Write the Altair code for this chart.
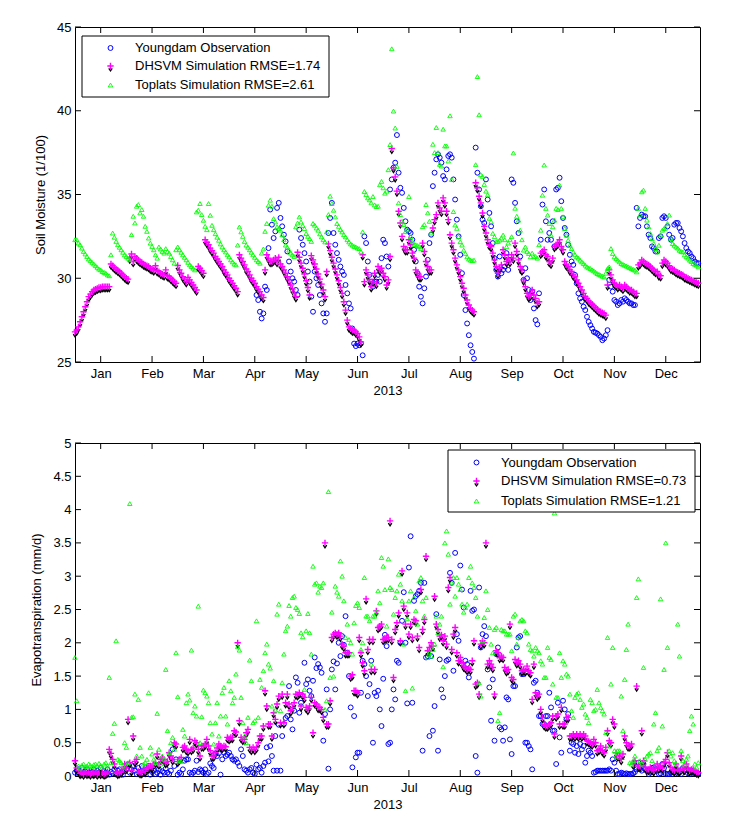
import altair as alt
import pandas as pd

FONT = "Liberation Sans"

def cat(*parts):
    out = []
    for p in parts:
        out.extend(p)
    return out

# ---------------- Soil moisture (1/100), one value per day of 2013 ----------------
sm_dhsvm = cat(
    [26.8, 26.9, 27.1, 27.4, 27.7, 28.0, 28.3, 28.6, 28.9, 29.05, 29.2, 29.3, 29.35, 29.4, 29.45, 29.45, 29.5, 29.5, 29.5, 29.5, 29.5],
    [30.85, 30.75, 30.65, 30.55, 30.48, 30.4, 30.3, 30.2, 30.1, 30.0, 29.95],
    [31.2, 31.45, 31.0, 31.3, 31.2, 31.1, 31.0, 30.95, 30.85, 30.8, 30.75, 30.7, 30.6, 30.55, 30.5, 30.75, 30.45, 30.4, 30.3, 30.25, 30.2, 30.5, 30.15, 30.1, 30.0, 29.9, 29.8, 29.7],
    [30.76, 30.5, 30.3, 30.1, 29.95, 29.8],
    [30.05, 29.9, 29.75, 29.6, 29.45, 29.3],
    [30.7, 30.6, 30.45, 30.3],
    [32.3, 32.15, 32.0, 31.8, 31.65, 31.5, 31.3, 31.15, 31.0, 30.85, 30.7, 30.5, 30.35, 30.2, 30.0, 29.85, 29.7, 29.55, 29.4, 29.2],
    [31.4, 31.2, 31.0, 30.8, 30.55, 30.4, 30.2, 30.0, 29.85, 29.7, 29.5, 29.35, 29.2, 29.0, 28.85],
    [30.5, 31.4, 31.2, 31.0, 31.0, 31.1, 31.2, 31.0, 31.25],
    [30.85, 30.7, 30.5, 30.3, 30.1, 29.9, 29.6, 29.35, 29.1, 28.9],
    [31.55, 31.25, 30.9, 30.6, 30.25, 29.85, 29.45, 29.0],
    [31.35, 31.1, 30.85, 30.55, 30.25, 29.95, 29.65, 29.3, 28.9, 30.4],
    [32.05, 31.65, 31.25, 30.9, 30.55, 30.2, 29.85, 29.45, 29.1, 28.6, 28.1, 27.5],
    [27.1, 27.0, 26.9, 26.9, 26.8, 26.7, 26.5, 26.2],
    [31.4, 29.8, 30.5, 30.2, 29.9, 29.5, 29.8, 30.3, 29.7, 30.7, 30.5, 30.6, 30.3, 30.1, 29.6, 29.9, 31.3],
    [37.75, 36.6, 36.05, 35.2, 34.0, 33.3, 32.5, 31.9, 31.7, 31.7, 32.3, 32.0, 31.5, 31.2, 30.5, 30.3, 30.1, 30.1, 32.1, 31.6, 31.0, 30.7, 30.5, 30.5],
    [33.0, 33.5, 33.8, 34.5, 34.2, 34.0, 34.8, 34.5, 34.0, 33.5, 32.6, 32.1, 31.7, 31.2, 30.8, 30.5, 30.1, 29.7, 29.4, 29.0, 28.7, 28.4, 28.2, 28.1, 28.0],
    [35.7, 35.4, 34.9, 34.5, 33.9, 33.1, 32.7, 32.3, 32.0, 31.9, 31.5, 31.1, 30.7, 30.3, 30.6, 30.8, 31.7, 31.4, 31.0, 31.2, 31.0, 31.4, 31.2, 32.1, 31.6, 31.1, 30.7, 30.5, 29.9, 29.5, 29.1, 28.9, 29.0, 29.3, 29.0, 28.8, 28.5, 28.6],
    [31.5, 31.6, 31.7, 31.4, 31.3, 31.0, 30.9, 31.2, 31.9, 32.0, 32.1, 32.3, 31.9, 31.7, 31.0, 30.8, 30.7, 30.5, 30.4, 30.2, 30.1, 29.9, 29.7, 29.5, 29.3, 29.1, 28.9, 28.8, 28.65, 28.55, 28.45, 28.35, 28.25, 28.15, 28.05, 28.0, 27.95, 27.9, 27.8],
    [29.6, 30.5, 30.2, 29.9, 29.7, 29.6, 29.5, 29.6, 29.5, 29.4, 29.6, 29.5, 29.4, 29.3, 29.3, 29.2, 29.1, 29.1],
    [30.8, 30.9, 31.1, 31.0, 30.9, 30.85, 30.8, 30.7, 30.6, 30.5, 30.4, 30.4, 30.2, 30.15],
    [30.9, 31.1, 31.0, 30.9, 30.75, 30.6, 30.55, 30.5, 30.4, 30.35, 30.3, 30.25, 30.2, 30.1, 30.05, 30.0, 29.95, 29.9, 29.85, 29.8, 29.75, 29.7],
)

sm_obs = cat(
    [None] * 106,
    [29.0, 28.7, 28.0, 27.6, 27.9, 29.5, 29.3],
    [31.8, 34.1, 33.2, 32.4, 32.8, 34.2, 34.5, 33.6, 33.1, 32.6, 32.2, 31.6, 31.0, 30.4, 30.0, 29.8, 29.3, 29.0],
    [32.9, 32.4, 32.0, 31.5, 31.0, 30.4, 29.8, 28.9, 28.0, 30.4, 30.0, 29.6, 29.0, 28.5, 27.9, 27.4, 27.9],
    [32.7, 33.6, 34.5, 32.7, 32.0, 31.5, 31.1, 30.7, 30.4, 30.2, 29.6, 29.1, 28.5, 28.2, 27.0, 26.1, 25.95, 26.1, 26.0, 26.1, 25.4],
    [32.5, 32.1, 31.0, 30.2, 29.8, 29.5, 29.8, 29.8, 30.2, 29.8, 31.2, 32.3, 32.1, 31.3, 30.7, 35.3, 35.9, 36.6, 36.9, 38.55,
     36.3, 35.4, 35.1, 34.2, 33.4, 32.9, 32.8, 32.7, 32.3, 31.7, 31.0, 30.3, 29.5, 28.9, 28.5, 29.4, 30.1, 31.1, 32.1, 32.6,
     35.5, 36.3, 37.1, 37.4, 37.2, 36.9, 36.1, 35.9, 36.5, 37.3, 37.4, 37.2, 35.9, 34.7, 33.5, 32.5, 31.4, 30.3, 29.0, 28.1,
     27.3, 26.6, 26.0, 25.6, 25.2],
    [37.8, 36.3, 35.3, 34.3, 33.5, 33.3, 35.9, 34.7, 33.9, 33.1, 32.1, 31.2, 30.5, 30.1, 31.3, 30.3, 30.5, 30.7, 31.5, 30.5,
     31.1, 35.9, 35.7, 34.5, 33.4, 32.7, 31.3, 30.4, 29.9, 30.6, 30.0, 29.3, 28.7, 29.2, 28.2, 27.5, 27.25, 29.1],
    [32.3, 34.4, 35.3, 33.4, 32.3, 32.7, 32.3, 33.4, 31.9, 35.3, 35.4, 36.0, 34.6, 33.6, 33.0, 32.6, 32.0, 31.4, 31.0, 30.8,
     30.2, 29.7, 29.1, 28.8, 28.6, 28.3, 28.1, 27.7, 27.4, 27.2, 27.0, 26.8, 26.75, 26.7, 26.6, 26.5, 26.3, 26.4, 26.6, 26.9],
    [29.9, 29.5, 29.2, 28.7, 28.6, 28.4, 28.5, 28.7, 28.6, 28.8, 28.7, 28.6, 28.5, 28.5, 28.4, 28.4],
    [34.2, 33.1, 33.6, 33.8, 33.7, 33.7, 33.1, 32.6, 32.4, 31.9, 31.8, 31.6, 31.6, 32.4, 32.5, 33.6, 33.7, 33.6, 33.1, 32.6,
     32.3, 32.4, 33.2, 33.3, 33.3, 33.0, 32.8, 32.5, 32.1, 31.8, 31.6, 31.5, 31.3, 31.2, 31.0, 30.9, 30.9],
)

sm_toplats = cat(
    [32.3, 32.3, 32.1, 32.0, 31.8, 31.6, 31.45, 31.3, 31.15, 31.05, 30.95, 30.85, 30.75, 30.65, 30.55, 30.5, 30.4, 30.35, 30.3, 30.2, 30.15],
    [31.4, 32.7, 32.45, 32.2, 32.0, 31.85, 31.7, 31.55, 31.4, 31.3, 31.2],
    [31.1, 32.6, 33.7, 33.3, 34.3, 34.4, 33.9, 34.1, 33.7, 33.1, 32.8, 32.4, 32.1, 31.9, 31.7, 31.4, 31.2],
    [31.87, 31.75, 31.6, 31.5, 31.77, 31.6, 31.5, 31.3, 31.1, 30.9, 31.7, 31.87, 31.7, 31.55, 31.4, 31.25, 31.1, 30.95, 30.8, 30.7, 30.6, 30.5],
    [33.96, 34.06, 34.46, 33.8, 33.46, 33.1, 32.9, 34.46, 33.76, 33.16, 32.9, 32.66, 32.45, 32.27, 32.05, 31.87, 31.7, 31.57, 31.4, 31.28, 31.1, 30.98, 30.85, 30.8],
    [31.98, 33.06, 32.77, 32.5, 32.2, 31.98, 31.85, 31.7, 31.55, 31.4, 31.25, 31.1, 31.0, 30.9, 31.5, 31.75],
    [32.8, 33.27, 34.36, 34.66, 34.3, 33.56, 33.36, 33.07, 32.97, 32.87, 32.6, 32.3, 31.98, 31.85, 31.68, 31.5, 31.4, 31.3],
    [33.07, 33.3, 33.66, 33.36, 33.15, 32.97, 32.67, 32.5, 32.37, 32.2, 33.27, 33.17, 33.0, 32.87, 32.65, 32.47, 32.3, 32.17, 32.77, 33.8],
    [34.9, 34.46, 34.06, 33.66, 33.27, 33.1, 32.9, 32.77, 32.6, 32.47, 32.3, 32.17, 32.05, 31.98, 31.9, 31.87, 31.8, 31.77, 31.58, 32.77],
    [35.18, 35.0, 34.8, 34.68, 34.5, 34.88, 34.38, 34.28, 34.3, 35.58, 35.78, 35.4, 35.08, 35.2, 36.48, 37.98, 43.7, 39.98, 38.97, 36.68,
     34.5, 33.8, 33.4, 33.2, 32.78, 32.9, 34.88, 32.48, 32.2, 32.0, 32.0, 31.95, 31.9, 31.78, 33.08, 33.2, 34.4, 33.9, 33.4, 32.7],
    [38.0, 37.5, 39.0, 37.5, 36.8, 36.7, 38.9, 37.9, 37.9, 37.0, 39.7, 35.9, 33.98, 33.18, 32.98, 32.48, 32.18, 31.98, 31.68, 31.48, 31.28, 31.15, 31.08, 31.05, 31.08],
    [36.78, 42.04, 39.76, 36.18, 36.08, 35.6, 35.2, 34.98, 33.58, 33.38, 32.68, 32.48, 32.18, 32.2, 32.28, 32.4, 32.58, 32.3, 31.88, 32.1,
     32.3, 32.48, 37.48, 34.18, 33.7, 33.47, 32.87, 32.3, 31.68, 31.87, 31.6, 31.48, 31.28, 31.5, 31.28, 31.3, 31.2, 32.0],
    [32.87, 34.96, 36.76, 34.17, 33.77, 33.27, 32.57, 33.07, 33.47, 34.17, 34.1, 35.56, 34.17, 33.67, 32.97, 32.57, 32.27, 31.97, 31.77, 31.57,
     31.4, 31.28, 31.2, 31.08, 30.98, 30.88, 30.78, 30.68, 30.62, 30.58, 30.5, 30.44, 30.36, 30.28, 30.23, 30.18, 30.12, 30.08],
    [30.3, 30.58, 30.68, 31.77, 31.48, 31.28, 31.18, 31.08, 30.98, 30.88, 30.83, 30.78, 30.73, 30.68, 30.63, 30.58, 30.53, 30.48, 30.38],
    [34.17, 33.77, 35.16, 35.26, 34.17, 33.47, 33.07, 32.67, 32.37, 32.07, 31.77, 31.57, 31.97, 32.57, 32.87, 32.97, 33.0, 33.27, 33.77, 32.37,
     32.07, 31.97, 31.87, 31.8, 31.67, 31.6, 31.57, 31.4, 31.28, 31.2, 31.08, 31.0, 30.88, 30.83, 30.78, 30.68],
)

# ---------------- Evapotranspiration (mm/d), one value per day of 2013 ----------------
et_obs = cat(
    [0.05, 0.08, 0.1, 0.05, 0.12, 0.03, 0.07, 0.1, 0.05, 0.02, 0.06, 0.1, 0.04, 0.08, 0.05, 0.12, 0.03, 0.07, 0.05, 0.1, 0.02, 0.06, 0.04, 0.1, 0.03, 0.08, 0.1, 0.05, 0.02, 0.07, 0.1],
    [0.18, 0.05, 0.1, 0.15, 0.08, 0.03, 0.12, 0.06, 0.15, 0.03, 0.05, 0.1, 0.15, 0.02, 0.06, 0.08, 0.03, 0.05, 0.1, 0.02, 0.07, 0.05, 0.11, 0.05, 0.03, 0.08, 0.4, 0.15, 0.25],
    [0.02, 0.05, 0.03, 0.1, 0.23, 0.25, 0.25, 0.05, 0.03, 0.05, 0.08, 0.23, 0.06, 0.1, 0.08, 0.05, 0.1, 0.03, 0.05, 0.19, 0.15, 0.12, 0.34, 0.3, 0.34, 0.02, 0.25, 0.35, 0.3, 0.32],
    [0.35, 0.3, 0.25, 0.23, 0.25, 0.2, 0.15, 0.4, 0.3, 0.1, 0.08, 0.05, 0.1, 0.12, 0.05, 0.03, 0.17, 0.1, 0.12, 0.05, 0.15, 0.2, 0.43, 0.22, 0.45, 0.3, 0.08, 0.6, 0.08, 0.77],
    [0.08, 0.6, 0.78, 0.87, 0.9, 1.35, 0.85, 0.7, 0.98, 1.48, 1.4, 0.95, 1.1, 1.2, 1.7, 1.38, 1.45, 1.28, 1.2, 1.43, 1.78, 1.62, 1.68, 1.63, 1.55, 0.53, 0.93, 1.3, 0.11, 1.0],
    [1.6, 1.72, 1.3, 1.69, 2.0, 1.8, 2.1, 1.97, 2.4, 1.85, 1.5, 1.03, 0.13, 0.9, 0.28, 0.35, 0.35, 1.25, 1.73, 1.68, 1.5, 1.2, 1.38, 1.73, 0.5, 1.25, 1.2, 1.28, 1.0, 0.75],
    [1.46, 2.12, 1.95, 0.48, 0.5, 1.0, 1.3, 1.15, 1.73, 1.7, 2.0, 2.33, 2.76, 2.0, 1.09, 3.13, 3.6, 1.1, 2.63, 2.7, 2.73, 2.78, 2.9, 0.38, 2.9, 1.78, 1.8, 0.6, 1.8, 0.68],
    [1.05, 2.43, 0.38, 1.75, 1.3, 1.18, 1.5, 1.73, 1.75, 3.05, 2.9, 1.58, 3.35, 2.13, 2.03, 3.16, 2.8, 2.53, 1.73, 1.68, 1.48, 2.78, 2.48, 2.5, 0.3, 0.05, 2.83, 1.93, 2.13, 2.25],
    [2.1, 1.6, 1.33, 0.83, 1.45, 0.53, 1.83, 1.93, 0.73, 0.7, 0.53, 0.73, 1.18, 1.15, 0.55, 0.33, 1.35, 1.35, 1.93, 2.08, 2.1, 1.53, 1.53, 0.5, 0.5, 0.45, 0.4, 0.1, 1.4, 1.43],
    [1.25, 0.9, 0.9, 0.78, 0.78, 0.9, 0.9, 1.25, 1.03, 0.68, 0.68, 0.18, 1.1, 0.58, 0.35, 1.13, 1.0, 0.85, 0.93, 0.38, 0.5, 0.48, 0.35, 0.45, 0.33, 0.48, 0.4, 0.45, 0.2, 0.3],
    [0.38, 0.35, 0.3, 0.05, 0.06, 0.08, 0.08, 0.08, 0.08, 0.08, 0.08, 0.08, 0.1, 0.08, 0.25, 0.2, 0.08, 0.03, 0.03, 0.05, 0.04, 0.03, 0.04, 0.03, 0.03, 0.03, 0.04, 0.06, 0.1, 0.2],
    [0.1, 0.08, 0.18, 0.1, 0.08, 0.03, 0.05, 0.12, 0.13, 0.1, 0.08, 0.03, 0.04, 0.18, 0.12, 0.03, 0.03, 0.03, 0.05, 0.03, 0.05, 0.1, 0.04, 0.05, 0.03, 0.12, 0.08, 0.1, 0.04, 0.03, 0.08, 0.05, 0.03, 0.03, 0.04],
)

et_dhsvm = cat(
    [0.23, 0.12, 0.08, 0.04, 0.05, 0.03, 0.06, 0.04, 0.05, 0.03, 0.05, 0.04, 0.06, 0.03, 0.05, 0.04, 0.05, 0.03, 0.04, 0.06, 0.4, 0.34, 0.25, 0.18, 0.06, 0.04, 0.05, 0.06, 0.1, 0.18, 0.12],
    [0.85, 0.2, 0.08, 0.6, 0.22, 0.25, 0.07, 0.05, 0.05, 0.1, 0.07, 0.12, 0.13, 0.15, 0.13, 0.18, 0.2, 0.33, 0.18, 0.25, 0.27, 0.25, 0.2, 0.22, 0.35, 0.3, 0.25, 0.5, 0.48],
    [0.22, 0.25, 0.28, 0.43, 0.45, 0.4, 0.38, 0.55, 0.4, 0.42, 0.53, 0.5, 0.4, 0.3, 0.45, 0.45, 0.48, 0.55, 0.45, 0.38, 0.3, 0.3, 0.35, 0.42, 0.48, 0.45, 0.43, 0.45, 0.44, 0.58],
    [0.56, 0.58, 0.58, 0.68, 0.66, 2.0, 0.83, 0.58, 0.55, 0.55, 0.65, 0.7, 0.43, 0.4, 0.43, 0.4, 0.43, 0.5, 0.6, 0.6, 0.75, 1.28, 1.05, 0.78, 0.78, 0.6, 0.95, 0.85, 1.08, 1.2],
    [0.8, 1.23, 0.8, 1.1, 1.23, 1.08, 0.98, 1.03, 1.1, 1.23, 1.22, 1.25, 1.05, 1.23, 1.18, 1.03, 1.0, 1.05, 1.18, 0.65, 1.1, 1.08, 1.03, 1.03, 1.0, 0.88, 3.5, 0.78, 0.78, 1.13],
    [2.08, 2.13, 2.15, 2.13, 2.15, 2.1, 1.98, 1.95, 1.85, 1.85, 1.85, 1.5, 1.52, 1.28, 1.28, 1.25, 2.08, 1.85, 1.7, 1.58, 2.66, 1.9, 2.05, 1.6, 2.05, 1.6, 2.48, 2.23, 2.25, 2.28],
    [2.05, 2.07, 2.08, 2.08, 3.83, 2.05, 1.48, 2.2, 2.3, 2.45, 2.03, 3.08, 2.55, 2.28, 2.45, 2.13, 2.28, 2.08, 2.35, 2.33, 2.1, 1.93, 2.8, 2.2, 2.35, 3.3, 1.88, 1.93, 2.0, 1.95],
    [2.7, 2.28, 2.2, 2.1, 2.12, 2.03, 2.1, 1.98, 2.83, 2.98, 1.9, 2.13, 2.23, 1.85, 1.73, 1.78, 1.7, 1.65, 1.63, 1.6, 1.62, 1.6, 1.73, 2.03, 1.38, 1.4, 1.23, 1.98, 2.03, 2.0],
    [3.5, 1.68, 1.73, 1.68, 1.63, 1.23, 1.88, 1.85, 1.78, 1.8, 1.78, 1.63, 1.58, 1.6, 2.28, 1.48, 1.45, 1.75, 1.7, 1.73, 1.68, 1.58, 1.6, 1.58, 1.65, 1.58, 1.55, 1.15, 1.68, 1.25],
    [1.2, 1.23, 1.0, 0.88, 0.77, 0.75, 0.75, 0.78, 0.8, 0.9, 0.63, 0.9, 0.93, 0.78, 1.03, 0.78, 0.78, 0.88, 0.88, 0.6, 0.6, 0.63, 0.6, 0.63, 0.6, 0.63, 0.6, 0.63, 0.6, 0.53],
    [0.52, 0.5, 0.48, 0.55, 0.5, 0.38, 0.4, 0.45, 0.38, 0.35, 0.43, 0.68, 0.53, 0.5, 0.85, 0.78, 0.35, 0.3, 0.3, 0.25, 0.33, 0.6, 0.5, 0.45, 0.45, 0.48, 0.18, 0.23, 1.35, 0.15],
    [0.15, 0.68, 0.23, 0.13, 0.1, 0.1, 0.13, 0.1, 0.08, 0.12, 0.18, 0.12, 0.15, 0.12, 0.2, 0.25, 0.35, 0.2, 0.13, 0.1, 0.08, 0.18, 0.1, 0.08, 0.3, 0.12, 0.1, 0.18, 0.12, 0.08, 0.1, 0.1, 0.08, 0.06, 0.05],
)

et_toplats = cat(
    [1.78, 1.13, 0.15, 0.12, 0.16, 0.18, 0.14, 0.15, 0.18, 0.16, 0.14, 0.17, 0.18, 0.15, 0.19, 0.16, 0.13, 0.18, 0.2, 0.15, 1.48, 0.2, 0.64, 0.79, 2.03, 0.25, 0.23, 0.2, 0.15, 0.5, 0.43],
    [0.2, 4.09, 0.88, 0.89, 1.23, 0.3, 1.15, 0.43, 0.3, 0.18, 0.2, 0.25, 1.25, 0.43, 0.33, 0.25, 0.2, 0.94, 0.4, 0.18, 0.3, 0.25, 1.6, 0.68, 0.35, 0.5, 0.58, 0.4, 1.85],
    [1.19, 0.23, 0.22, 0.7, 0.6, 1.1, 1.23, 1.14, 1.89, 0.95, 1.05, 0.9, 2.55, 0.5, 0.89, 1.29, 1.25, 1.2, 1.1, 0.8, 0.63, 0.48, 0.8, 1.1, 0.6, 0.9, 1.25, 1.33, 0.9, 0.78],
    [1.43, 1.28, 1.1, 1.18, 1.53, 1.94, 1.89, 1.18, 0.8, 0.6, 0.5, 0.88, 1.74, 1.43, 0.8, 0.83, 2.33, 0.88, 1.45, 1.33, 1.58, 1.85, 1.98, 1.68, 1.62, 1.05, 1.43, 0.99, 2.43, 2.58],
    [0.98, 1.4, 1.83, 2.18, 2.25, 2.56, 2.4, 2.68, 2.7, 2.53, 2.5, 2.44, 2.15, 2.09, 1.3, 2.18, 2.44, 2.15, 1.83, 3.15, 2.88, 2.9, 2.76, 2.85, 2.83, 2.9, 1.0, 1.13, 4.27, 1.48],
    [2.46, 1.5, 2.85, 2.76, 2.7, 3.23, 3.0, 2.63, 2.08, 2.28, 2.05, 2.0, 1.83, 2.3, 2.56, 2.6, 2.53, 1.9, 2.0, 2.98, 2.4, 2.4, 2.33, 1.68, 2.4, 2.4, 2.46, 2.78, 2.6, 3.28],
    [3.15, 2.8, 2.25, 3.26, 2.83, 2.8, 2.43, 2.68, 2.78, 3.03, 2.88, 2.63, 1.98, 1.28, 2.36, 2.63, 2.78, 1.32, 2.68, 2.48, 2.28, 2.93, 2.98, 2.63, 2.4, 2.68, 1.78, 1.85, 1.8, 1.9],
    [1.98, 2.4, 2.15, 2.28, 2.4, 1.64, 3.5, 3.68, 3.33, 2.58, 2.9, 2.98, 2.7, 2.98, 2.88, 2.8, 2.58, 2.46, 2.53, 2.58, 2.98, 3.15, 2.9, 2.83, 2.68, 2.4, 1.4, 1.2, 2.03, 2.38],
    [2.78, 2.5, 2.23, 1.98, 1.85, 2.2, 2.23, 0.83, 0.95, 2.2, 2.18, 2.18, 2.13, 2.13, 2.13, 1.88, 2.4, 2.43, 1.98, 2.08, 2.33, 2.35, 2.33, 2.18, 2.15, 1.98, 1.9, 1.88, 1.8, 1.93],
    [1.88, 1.85, 1.73, 1.68, 1.48, 1.48, 1.93, 1.78, 1.75, 1.38, 3.95, 1.18, 1.18, 1.85, 1.48, 1.73, 1.68, 1.53, 1.5, 1.23, 0.98, 0.88, 1.18, 1.23, 1.25, 1.15, 1.03, 1.08, 0.93, 0.88],
    [0.8, 1.15, 1.1, 0.98, 1.0, 1.3, 1.1, 1.03, 0.98, 0.93, 0.65, 2.08, 0.45, 1.38, 1.93, 0.38, 0.3, 0.38, 0.38, 1.2, 0.68, 1.45, 1.9, 2.28, 0.2, 0.18, 0.23, 0.3, 2.68, 2.96],
    [0.23, 0.18, 1.63, 0.25, 0.3, 0.33, 0.35, 0.23, 0.78, 0.95, 0.38, 0.43, 2.66, 0.75, 1.6, 3.5, 1.93, 0.38, 0.3, 0.35, 0.23, 0.18, 2.28, 1.8, 0.38, 0.23, 0.18, 0.25, 0.3, 0.68, 0.9, 0.78, 0.18, 0.13, 0.2],
)

# ---------------- axes ----------------
month_names = ["Jan", "Feb", "Mar", "Apr", "May", "Jun", "Jul", "Aug", "Sep", "Oct", "Nov", "Dec"]
x_ticks = [15 + 30 * i for i in range(12)]          # day-of-year positions of the month ticks
sm_ticks = [25, 30, 35, 40, 45]
et_ticks = [0, 0.5, 1, 1.5, 2, 2.5, 3, 3.5, 4, 4.5, 5]

legend_sm = ["Youngdam Observation", "DHSVM Simulation RMSE=1.74", "Toplats Simulation RMSE=2.61"]
legend_et = ["Youngdam Observation", "DHSVM Simulation RMSE=0.73", "Toplats Simulation RMSE=1.21"]

BLUE, MAGENTA, GREEN = "#0000FF", "#FF00FF", "#00FF00"
PLUS = "M-1,0L1,0M0,-1L0,1"
VEE = "M-1,-0.7L0,0.8L1,-0.7"

W = 625
H_TOP, H_BOT = 335, 333
TICK = 6

month_expr = "[" + ",".join("'%s'" % m for m in month_names) + "][round((datum.value-15)/30)]"

MK_OBS = dict(shape="circle", filled=False, color=BLUE, size=24, strokeWidth=1, opacity=1)
MK_V = dict(shape=VEE, filled=False, color="black", size=12, strokeWidth=1.3, yOffset=3.5, opacity=1)
MK_P = dict(shape=PLUS, filled=False, color=MAGENTA, size=40, strokeWidth=1.4, opacity=1)
MK_TOP = dict(shape="triangle-up", filled=False, color=GREEN, size=20, strokeWidth=0.9, opacity=1)


def frame(values):
    return pd.DataFrame({"day": list(range(len(values))), "val": values}).dropna()


def panel(obs, dhs, top, ydomain, yticks, ytitle, H, leg_labels, leg_box, leg_sym_x, leg_txt_x, leg_rows):
    X = alt.X("day:Q", scale=alt.Scale(domain=[0, 365], nice=False, zero=False),
              axis=alt.Axis(values=x_ticks, title="2013", labelExpr=month_expr, grid=False,
                            ticks=False, domain=False, labelPadding=5, titlePadding=4))
    Y = alt.Y("val:Q", scale=alt.Scale(domain=ydomain, nice=False, zero=False),
              axis=alt.Axis(values=yticks, title=ytitle, format="~g", grid=False,
                            ticks=False, domain=False, labelPadding=4, titlePadding=9))

    obs_l = alt.Chart(frame(obs)).mark_point(**MK_OBS).encode(x=X, y=Y)
    dhs_v = alt.Chart(frame(dhs)).mark_point(**MK_V).encode(x=X, y=Y)
    dhs_p = alt.Chart(frame(dhs)).mark_point(**MK_P).encode(x=X, y=Y)
    top_l = alt.Chart(frame(top)).mark_point(**MK_TOP).encode(x=X, y=Y)

    xt = pd.DataFrame({"day": x_ticks})
    yt = pd.DataFrame({"val": yticks})
    tick_b = alt.Chart(xt).mark_rule(color="black", strokeWidth=1).encode(x=X, y=alt.value(H), y2=alt.value(H - TICK))
    tick_t = alt.Chart(xt).mark_rule(color="black", strokeWidth=1).encode(x=X, y=alt.value(0), y2=alt.value(TICK))
    tick_l = alt.Chart(yt).mark_rule(color="black", strokeWidth=1).encode(y=Y, x=alt.value(0), x2=alt.value(TICK))
    tick_r = alt.Chart(yt).mark_rule(color="black", strokeWidth=1).encode(y=Y, x=alt.value(W), x2=alt.value(W - TICK))

    one = pd.DataFrame({"k": [0]})
    x0, y0, x1, y1 = leg_box
    box = alt.Chart(one).mark_rect(fill="white", stroke="black", strokeWidth=1).encode(
        x=alt.value(x0), x2=alt.value(x1), y=alt.value(y0), y2=alt.value(y1))
    r0, r1, r2 = leg_rows
    s_obs = alt.Chart(one).mark_point(**MK_OBS).encode(x=alt.value(leg_sym_x), y=alt.value(r0))
    s_v = alt.Chart(one).mark_point(**MK_V).encode(x=alt.value(leg_sym_x), y=alt.value(r1))
    s_p = alt.Chart(one).mark_point(**MK_P).encode(x=alt.value(leg_sym_x), y=alt.value(r1))
    s_top = alt.Chart(one).mark_point(**MK_TOP).encode(x=alt.value(leg_sym_x), y=alt.value(r2))
    texts = [
        alt.Chart(one).mark_text(align="left", baseline="middle", font=FONT, fontSize=13, color="black").encode(
            x=alt.value(leg_txt_x), y=alt.value(r), text=alt.value(t))
        for r, t in zip(leg_rows, leg_labels)
    ]

    return alt.layer(obs_l, dhs_v, dhs_p, top_l, tick_b, tick_t, tick_l, tick_r,
                     box, s_obs, s_v, s_p, s_top, *texts).properties(width=W, height=H)


top_panel = panel(sm_obs, sm_dhsvm, sm_toplats, [25, 45], sm_ticks, "Soil Moisture (1/100)", H_TOP,
                  legend_sm, (7, 9, 254, 70), 35.5, 60, (21, 39, 58))
bot_panel = panel(et_obs, et_dhsvm, et_toplats, [0, 5], et_ticks, "Evapotranspiration (mm/d)", H_BOT,
                  legend_et, (373, 7, 620, 69), 401.5, 426, (19.5, 38, 58))

chart = alt.vconcat(top_panel, bot_panel, spacing=38).properties(
    padding={"left": 22, "top": 12, "right": 5, "bottom": 5},
    background="white",
).configure_view(
    stroke="black", strokeWidth=1
).configure_axis(
    grid=False, domain=False, ticks=False,
    labelFont=FONT, labelFontSize=13, labelColor="black",
    titleFont=FONT, titleFontSize=13, titleFontWeight="normal", titleColor="black",
)

chart.save("out.html", embed_options={"renderer": "svg", "actions": False})
